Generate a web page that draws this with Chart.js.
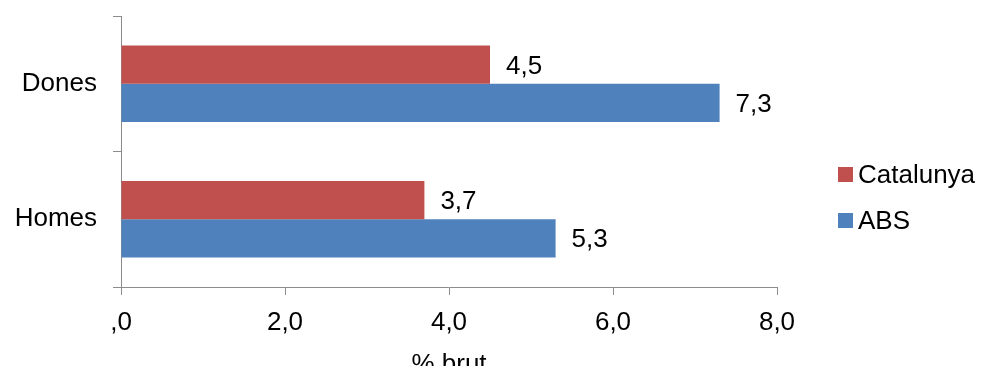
<!DOCTYPE html>
<html lang="ca">
<head>
    <meta charset="UTF-8">
    <title>% brut per sexe</title>
    <script src="https://cdn.jsdelivr.net/npm/chart.js"></script>
    <style>
        html, body { margin: 0; padding: 0; background: #fff; overflow: hidden; }
        /* el canvas és una mica més alt que la finestra: el títol de l'eix queda tallat */
        .wrap { width: 982px; height: 366px; overflow: hidden; }
        canvas { display: block; }
    </style>
</head>
<body>
    <div class="wrap">
        <canvas id="grafic" width="982" height="380"></canvas>
    </div>

    <script>
        const categories = ['Dones', 'Homes'];
        const catalunya = [4.5, 3.7];
        const abs = [7.3, 5.3];
        const xTicks = [0, 2, 4, 6, 8];

        const FONT = 'Liberation Sans, Arial, sans-serif';
        const fmt = v => v === 0 ? ',0' : v.toFixed(1).replace('.', ',');

        // etiquetes de valor a la dreta de cada barra
        const valueLabels = {
            id: 'valueLabels',
            afterDatasetsDraw(chart) {
                const ctx = chart.ctx;
                ctx.save();
                ctx.font = '26px ' + FONT;
                ctx.fillStyle = '#000';
                ctx.textAlign = 'left';
                ctx.textBaseline = 'alphabetic';
                chart.data.datasets.forEach((ds, i) => {
                    chart.getDatasetMeta(i).data.forEach((bar, j) => {
                        ctx.fillText(fmt(ds.data[j]), bar.x + 16, bar.y + 9);
                    });
                });
                ctx.restore();
            }
        };

        // llegenda a la dreta, amb quadrats petits
        const sideLegend = {
            id: 'sideLegend',
            afterDraw(chart) {
                const ctx = chart.ctx;
                ctx.save();
                ctx.font = '26px ' + FONT;
                ctx.textBaseline = 'alphabetic';
                chart.data.datasets.forEach((ds, i) => {
                    const cy = 174 + i * 46;
                    ctx.fillStyle = ds.backgroundColor;
                    ctx.fillRect(838, cy - 7, 15, 15);
                    ctx.fillStyle = '#000';
                    ctx.fillText(ds.label, 858, cy + 9);
                });
                ctx.restore();
            }
        };

        new Chart(document.getElementById('grafic'), {
            type: 'bar',
            data: {
                labels: categories,
                datasets: [
                    { label: 'Catalunya', data: catalunya, backgroundColor: '#C0504D' },
                    { label: 'ABS', data: abs, backgroundColor: '#4F81BD' }
                ]
            },
            options: {
                indexAxis: 'y',
                responsive: false,
                animation: false,
                layout: { padding: { top: 16, right: 205, left: 0, bottom: 0 } },
                datasets: {
                    bar: { categoryPercentage: 0.566, barPercentage: 1.0 }
                },
                plugins: {
                    legend: { display: false },
                    tooltip: { enabled: false }
                },
                scales: {
                    x: {
                        min: 0,
                        max: 8,
                        afterBuildTicks: s => { s.ticks = xTicks.map(v => ({ value: v })); },
                        afterFit: s => { s.height = 93; },
                        grid: { drawOnChartArea: false, drawTicks: true, tickLength: 8, color: '#8c8c8c' },
                        border: { color: '#8c8c8c' },
                        ticks: {
                            callback: v => fmt(v),
                            font: { family: FONT, size: 26 },
                            color: '#000',
                            padding: 12,
                            maxRotation: 0
                        },
                        title: {
                            display: true,
                            text: '% brut',
                            font: { family: FONT, size: 26 },
                            color: '#000',
                            padding: { top: 0, bottom: 0 }
                        }
                    },
                    y: {
                        afterFit: s => { s.width = 121; s.paddingTop = 0; s.paddingBottom = 0; },
                        grid: { drawOnChartArea: false, drawTicks: true, tickLength: 8, offset: true, color: '#8c8c8c' },
                        border: { color: '#8c8c8c' },
                        ticks: {
                            font: { family: FONT, size: 26 },
                            color: '#000',
                            padding: 16
                        }
                    }
                }
            },
            plugins: [valueLabels, sideLegend]
        });
    </script>
</body>
</html>
